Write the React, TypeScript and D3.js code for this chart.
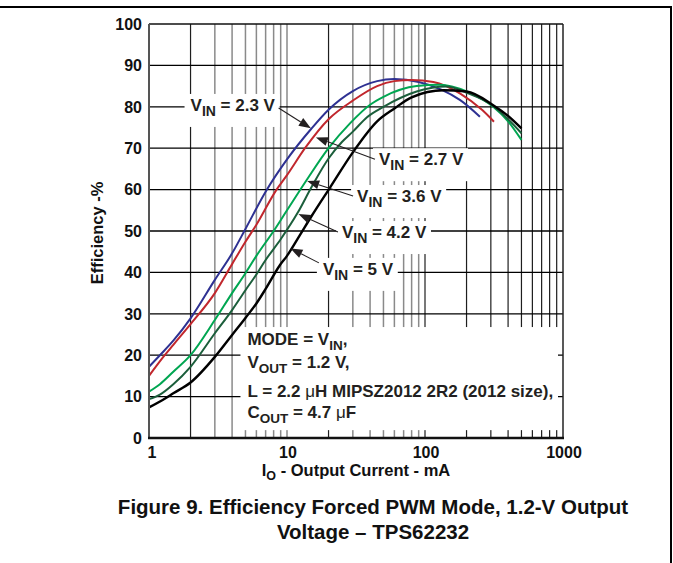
import React, { useRef, useEffect } from 'react';
import * as d3 from 'd3';

// output current (mA) and efficiency (%), one pair per V_IN
const current23 = [1, 1.2, 1.5, 2, 3, 4, 5, 7, 10, 15, 20, 30, 45, 60, 90, 130, 180, 250];
const eff23 = [17.2, 20, 23.5, 28.9, 38.2, 44.6, 50.5, 59.5, 67.3, 74.7, 79.3, 83.8, 86.2, 86.7, 86, 84.2, 81.6, 77.6];

const current27 = [1, 1.3, 1.5, 2, 3, 4, 5, 6, 8.4, 10, 13.5, 20, 30, 45, 60, 80, 115, 180, 260, 316];
const eff27 = [15, 20, 22.5, 27.5, 35, 42, 47.4, 51.5, 60, 63.5, 70, 77, 81.5, 85, 86.2, 86.5, 86, 83.2, 79.2, 76.4];

const current36 = [1, 1.2, 1.5, 2, 3, 4, 5, 6, 8, 10, 14, 20, 28.6, 40, 50, 87, 128, 200, 312, 400, 500];
const eff36 = [11.2, 13, 16, 20, 28.5, 35, 39.8, 44, 50, 55, 62.5, 70, 76, 80.5, 82.4, 85, 85.3, 83.7, 80, 76.5, 72];

const current42 = [1, 1.2, 1.5, 2, 3, 4, 5, 6, 7, 9, 12, 15, 20, 25, 30, 38, 50, 87, 143, 200, 312, 400, 500];
const eff42 = [9.4, 10.5, 13, 17.2, 25.3, 30.9, 35.7, 39.5, 43, 48, 54.5, 60.5, 67.5, 71.5, 74, 77.5, 80, 83.7, 84.9, 83.4, 80.2, 77, 73.6];

const current50 = [1, 1.3, 1.5, 2, 3, 4, 5, 6, 7, 8.9, 10, 12.4, 15, 20.5, 30, 45, 60, 80, 136, 200, 312, 400, 500];
const eff50 = [7.4, 9.5, 10.8, 13.4, 19.6, 24.9, 29, 32.5, 36, 41.8, 44, 49, 53.5, 60.5, 69, 76.5, 79.6, 82.3, 84, 83.7, 80.4, 77.8, 74.8];

const vinLabels = ['2.3', '2.7', '3.6', '4.2', '5'];
const seriesColors = ['#2e3192', '#c1272d', '#00a651', '#1b5e3b', '#000000'];
const seriesCurrents = [current23, current27, current36, current42, current50];
const seriesEffs = [eff23, eff27, eff36, eff42, eff50];

const yTicks = [0, 10, 20, 30, 40, 50, 60, 70, 80, 90, 100];
const xTickLabels = [1, 10, 100, 1000];

// label text start (mA, %) and arrow tip (mA, %) for each V_IN callout
const labelX = [2.0, 46.4, 32.2, 25, 18.2];
const labelY = [79, 65.9, 57, 48.3, 39.4];
const tipX = [14.9, 16.2, 14.0, 12.1, 10.6];
const tipY = [74.8, 72.6, 62.1, 54.1, 45.8];

const noteLines = ['MODE', 'VOUT', 'L', 'COUT'];

const FONT = '"Liberation Sans", Arial, Helvetica, sans-serif';

function App() {
    const ref = useRef<SVGSVGElement>(null);
    const width = 673;
    const height = 563;
    const margin = { top: 24, right: 110, bottom: 125, left: 149 };

    useEffect(() => {
        if (!ref.current) return;
        const svg = d3.select(ref.current);
        svg.selectAll('*').remove();

        const x = d3.scaleLog().domain([1, 1000]).range([margin.left, width - margin.right]);
        const y = d3.scaleLinear().domain([0, 100]).range([height - margin.bottom, margin.top]);
        const [x0, x1] = x.range();
        const [y0, y1] = y.range();

        // outer figure frame (top + right only)
        svg.append('line').attr('x1', 0).attr('x2', 672).attr('y1', 7).attr('y2', 7)
            .attr('stroke', '#000').attr('stroke-width', 2);
        svg.append('line').attr('x1', 671).attr('x2', 671).attr('y1', 7).attr('y2', height)
            .attr('stroke', '#000').attr('stroke-width', 2);

        // grid
        const xGrid: number[] = [];
        [1, 10, 100].forEach(d => { for (let k = 1; k < 10; k++) xGrid.push(k * d); });
        xGrid.push(1000);
        const grid = svg.append('g');
        grid.selectAll('line.v')
            .data(xGrid.filter(v => v > 1 && v < 1000))
            .join('line')
            .attr('class', 'v')
            .attr('x1', d => x(d)).attr('x2', d => x(d))
            .attr('y1', y1).attr('y2', y0)
            .attr('stroke', d => (d === 2 || d === 20 || d >= 100) ? '#1e1e1e' : '#8a8a8a')
            .attr('stroke-width', d => (d === 2 || d === 20 || d >= 100) ? 1.2 : 1.5);
        grid.selectAll('line.h')
            .data(yTicks.filter(v => v > 0 && v < 100))
            .join('line')
            .attr('class', 'h')
            .attr('x1', x0).attr('x2', x1)
            .attr('y1', d => y(d)).attr('y2', d => y(d))
            .attr('stroke', '#000').attr('stroke-width', 1.3);

        // plot frame
        svg.append('line').attr('x1', x0).attr('x2', x1).attr('y1', y1).attr('y2', y1)
            .attr('stroke', '#111').attr('stroke-width', 1.4);
        svg.append('line').attr('x1', x1).attr('x2', x1).attr('y1', y1).attr('y2', y0)
            .attr('stroke', '#222').attr('stroke-width', 1.5);

        const boxes = svg.append('g');
        const texts = svg.append('g').attr('font-family', FONT).attr('font-weight', 'bold').attr('fill', '#231f20');

        // note box
        const nbx = x(4.6), nbx2 = x(920), nby = y(26.8), nby2 = y(1.9);
        boxes.append('rect').attr('x', nbx).attr('y', nby).attr('width', nbx2 - nbx).attr('height', nby2 - nby)
            .attr('fill', '#fff');
        const noteBase = [345, 368, 397, 417.5];
        noteLines.forEach((n, i) => {
            const t = texts.append('text').attr('x', nbx + 7).attr('y', noteBase[i]).attr('font-size', 17);
            if (n === 'MODE') {
                t.append('tspan').text('MODE = V');
                t.append('tspan').attr('font-size', 13.5).attr('dy', 5).text('IN');
                t.append('tspan').attr('dy', -5).text(',');
            } else if (n === 'VOUT') {
                t.append('tspan').text('V');
                t.append('tspan').attr('font-size', 13.5).attr('dy', 5).text('OUT');
                t.append('tspan').attr('dy', -5).text(' = 1.2 V,');
            } else if (n === 'L') {
                t.append('tspan').text('L = 2.2 ');
                t.append('tspan').attr('font-weight', 'normal').text('\u03bc');
                t.append('tspan').text('H MIPSZ2012 2R2 (2012 size),');
            } else {
                t.append('tspan').text('C');
                t.append('tspan').attr('font-size', 13.5).attr('dy', 5).text('OUT');
                t.append('tspan').attr('dy', -5).text(' = 4.7 ');
                t.append('tspan').attr('font-weight', 'normal').text('\u03bc');
                t.append('tspan').text('F');
            }
        });

        // V_IN callouts
        const arrows = svg.append('g');
        vinLabels.forEach((v, i) => {
            const tx = x(labelX[i]);
            const ty = y(labelY[i]);
            const t = texts.append('text').attr('x', tx).attr('y', ty).attr('font-size', 17);
            t.append('tspan').text('V');
            t.append('tspan').attr('font-size', 14).attr('dy', 5).text('IN');
            t.append('tspan').attr('dy', -5).text(` = ${v} V`);
            const bb = (t.node() as SVGTextElement).getBBox();
            boxes.append('rect')
                .attr('x', bb.x - 6).attr('y', ty - 17)
                .attr('width', bb.width + 10).attr('height', 33)
                .attr('fill', '#fff');

            const px = x(tipX[i]);
            const py = y(tipY[i]);
            const sx = i === 0 ? bb.x + bb.width + 3 : tx - 4;
            const sy = i === 0 ? ty - 3 : (i === 4 ? ty - 12 : ty - 6);
            const ang = Math.atan2(py - sy, px - sx);
            const len = 12, hw = 4.5;
            const bx = px - len * Math.cos(ang), by = py - len * Math.sin(ang);
            arrows.append('line').attr('x1', sx).attr('y1', sy).attr('x2', bx).attr('y2', by)
                .attr('stroke', '#231f20').attr('stroke-width', 1.1);
            arrows.append('polygon')
                .attr('points', [
                    [px, py],
                    [bx + hw * Math.sin(ang), by - hw * Math.cos(ang)],
                    [bx - hw * Math.sin(ang), by + hw * Math.cos(ang)],
                ].map(p => p.join(',')).join(' '))
                .attr('fill', '#231f20');
        });

        // curves
        const line = d3.line<[number, number]>()
            .x(d => x(d[0]))
            .y(d => y(d[1]))
            .curve(d3.curveMonotoneX);
        const curves = svg.append('g');
        seriesCurrents.forEach((cur, i) => {
            const pts = cur.map((c, j) => [c, seriesEffs[i][j]] as [number, number]);
            curves.append('path')
                .attr('d', line(pts))
                .attr('fill', 'none')
                .attr('stroke', seriesColors[i])
                .attr('stroke-width', i === 4 ? 2.4 : 2)
                .attr('stroke-linejoin', 'round');
        });
        arrows.raise();
        texts.raise();

        // axes lines
        svg.append('line').attr('x1', x0).attr('x2', x0).attr('y1', y1).attr('y2', y0)
            .attr('stroke', '#555').attr('stroke-width', 2);
        svg.append('line').attr('x1', x0 - 1).attr('x2', x1 + 1).attr('y1', y0).attr('y2', y0)
            .attr('stroke', '#111').attr('stroke-width', 2.5);

        // tick labels
        const labels = svg.append('g').attr('font-family', FONT).attr('font-weight', 'bold')
            .attr('font-size', 16).attr('fill', '#111');
        labels.selectAll('text.y')
            .data(yTicks)
            .join('text')
            .attr('class', 'y')
            .attr('x', x0 - 7)
            .attr('y', d => y(d))
            .attr('dy', '0.36em')
            .attr('text-anchor', 'end')
            .text(d => d);
        labels.selectAll('text.x')
            .data(xTickLabels)
            .join('text')
            .attr('class', 'x')
            .attr('x', d => x(d) + (d === 1 ? 3 : 1))
            .attr('y', y0 + 19.5)
            .attr('text-anchor', 'middle')
            .text(d => d);

        // axis titles
        const xt = labels.append('text')
            .attr('x', (x0 + x1) / 2).attr('y', 476)
            .attr('text-anchor', 'middle').attr('font-size', 16.5);
        xt.append('tspan').text('I');
        xt.append('tspan').attr('font-size', 12.5).attr('dy', 4).text('O');
        xt.append('tspan').attr('dy', -4).text(' - Output Current - mA');

        labels.append('text')
            .attr('transform', `translate(103,${(y0 + y1) / 2 + 2}) rotate(-90)`)
            .attr('text-anchor', 'middle').attr('font-size', 16.5)
            .text('Efficiency -%');

        // caption
        const cap = svg.append('g').attr('font-family', FONT).attr('font-weight', 'bold')
            .attr('font-size', 20.5).attr('fill', '#111').attr('text-anchor', 'middle');
        cap.append('text').attr('x', 373).attr('y', 514).text('Figure 9. Efficiency Forced PWM Mode, 1.2-V Output');
        cap.append('text').attr('x', 373).attr('y', 539).text('Voltage \u2013 TPS62232');
    }, []);

    return (
        <svg
            ref={ref}
            width={width}
            height={height}
            style={{ position: 'absolute', left: 0, top: 0, background: '#fff' }}
        />
    );
}

export default App;
